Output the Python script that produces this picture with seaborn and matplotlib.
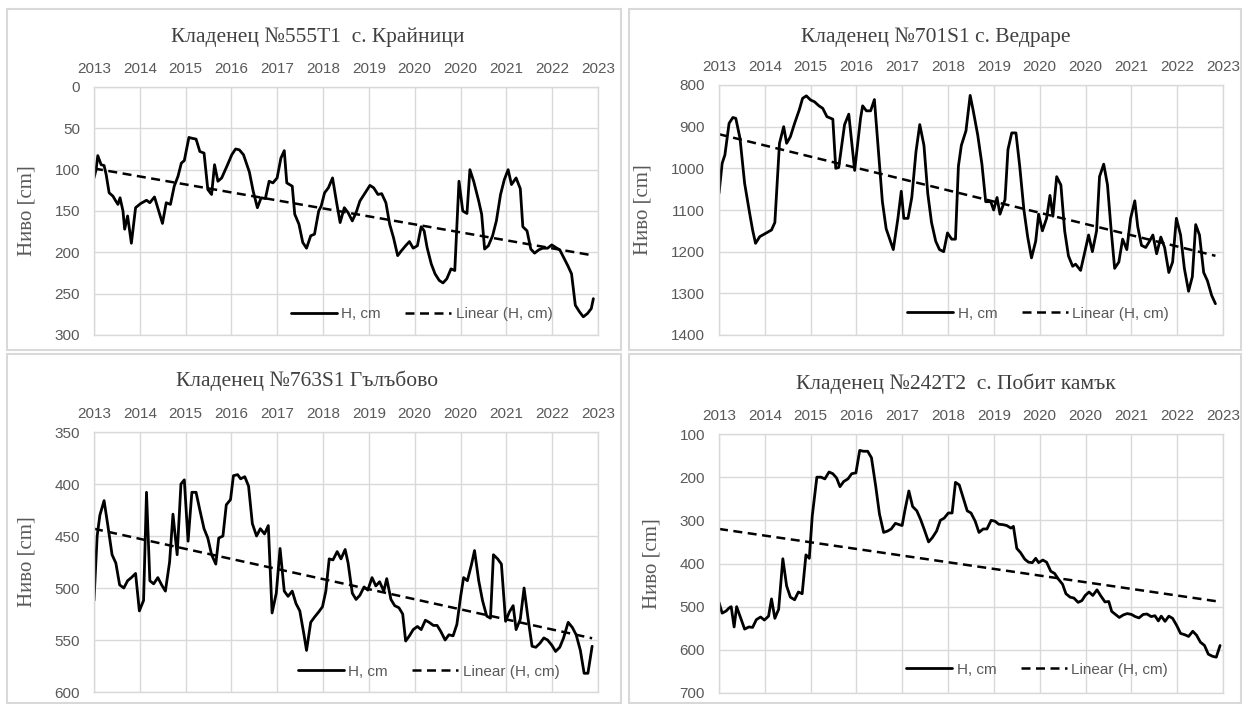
import numpy as np
import pandas as pd
import matplotlib
matplotlib.use("Agg")
import matplotlib.pyplot as plt
from matplotlib.patches import Rectangle
import seaborn as sns

# ---------------- data ----------------
tick_labels = ['2013', '2014', '2015', '2016', '2017', '2018', '2019',
               '2020', '2020', '2021', '2022', '2023']

titles = ['Кладенец №555T1  с. Крайници', 'Кладенец №701S1 с. Ведраре',
          'Кладенец №763S1 Гълъбово', 'Кладенец №242T2  с. Побит камък']

# months since Jan 2013 and level H [cm]
months_1 = [0, 0.5, 0.9, 1.7, 2.4, 2.9, 3.6, 4.5, 5.2, 5.7,
            6.2, 6.9, 7.3, 8.0, 8.9, 9.9, 11.1, 12.5, 13.3, 14.4,
            16.3, 17.2, 18.2, 19.1, 20.0, 20.8, 21.5, 22.1, 22.6, 23.3,
            24.3, 25.2, 26.2, 27.1, 28.0, 28.7, 29.5, 30.4, 31.8, 32.8,
            33.7, 34.6, 35.6, 37.0, 37.9, 38.9, 39.8, 40.8, 41.7, 42.6,
            43.6, 44.5, 45.3, 45.9, 47.2, 47.8, 48.8, 49.7, 50.6, 51.6,
            52.5, 53.5, 54.1, 54.9, 55.8, 56.8, 57.7, 58.6, 59.6, 60.5,
            61.5, 62.4, 63.3, 64.3, 65.7, 66.6, 67.6, 68.5, 69.5, 70.4,
            71.3, 72.3, 73.2, 74.2, 75.1, 76.0, 77.0, 77.9, 78.6, 79.3,
            80.3, 81.2, 82.2, 83.1, 84.0, 85.0, 85.9, 86.9, 87.8, 88.8,
            89.5, 90.4, 91.6, 92.3, 93.0, 93.9, 94.9, 95.8, 96.8, 97.7,
            98.6, 99.4, 100.5, 101.5, 102.1, 103.1, 104.0, 104.9, 105.9, 106.8,
            108.0, 109.0, 109.9, 110.9, 111.8, 112.8, 113.7, 114.6, 115.6, 116.5,
            117.5, 118.4, 118.9]
level_1 = [110, 100, 83, 94, 95, 106, 128, 132, 138, 142,
           134, 150, 172, 156, 189, 146, 141, 137, 140, 133,
           165, 140, 142, 120, 108, 92, 89, 74, 61, 62,
           63, 78, 80, 124, 130, 94, 114, 110, 94, 82,
           75, 76, 82, 103, 126, 146, 134, 135, 114, 116,
           110, 86, 77, 116, 120, 154, 166, 188, 195, 180,
           178, 150, 144, 128, 122, 110, 138, 164, 146, 152,
           162, 152, 138, 130, 119, 122, 130, 129, 140, 166,
           182, 204, 198, 192, 187, 195, 192, 169, 174, 194,
           214, 226, 234, 237, 232, 220, 222, 114, 150, 153,
           100, 114, 138, 154, 196, 192, 180, 162, 130, 112,
           100, 118, 110, 123, 169, 174, 196, 201, 197, 195,
           195, 191, 194, 197, 206, 216, 226, 264, 272, 278,
           274, 268, 256]

months_2 = [0, 0.75, 1.4, 2.4, 3.3, 4.0, 5.0, 6.1, 7.3, 8.0,
            8.7, 9.7, 11.1, 12.5, 13.3, 14.4, 15.4, 16.1, 17.0, 18.0,
            19.1, 19.9, 20.8, 21.8, 22.7, 23.8, 24.7, 25.7, 27.1, 27.8,
            28.5, 29.9, 30.9, 32.3, 33.7, 34.2, 35.1, 36.1, 37.0, 38.9,
            39.8, 41.5, 42.6, 43.4, 44.0, 45.0, 45.9, 46.9, 47.8, 48.8,
            49.7, 50.6, 51.6, 52.5, 53.5, 54.4, 55.4, 56.3, 57.0, 57.7,
            58.8, 59.8, 60.5, 61.6, 62.6, 63.5, 64.7, 65.4, 66.2, 66.9,
            68.1, 68.8, 69.7, 70.7, 71.6, 72.6, 73.5, 74.4, 75.4, 76.1,
            77.0, 78.0, 78.8, 79.5, 80.4, 81.4, 82.3, 83.2, 84.2, 84.9,
            86.1, 87.0, 88.0, 88.9, 89.9, 90.6, 91.6, 92.5, 93.3, 94.2,
            95.2, 96.1, 97.1, 98.0, 99.0, 99.7, 100.6, 101.6, 102.5, 103.3,
            104.2, 105.2, 106.1, 107.1, 108.0, 108.9, 109.9, 110.8, 111.8, 112.7,
            113.5, 114.4, 115.4, 116.3, 117.3, 118.2]
level_2 = [1060, 988, 968, 892, 878, 880, 928, 1036, 1108, 1148,
           1180, 1164, 1156, 1148, 1130, 940, 900, 940, 924, 892,
           860, 832, 826, 836, 840, 850, 856, 876, 882, 1000,
           998, 895, 870, 1005, 880, 850, 862, 862, 835, 1080,
           1145, 1195, 1120, 1055, 1120, 1120, 1070, 960, 895, 945,
           1060, 1130, 1175, 1195, 1200, 1155, 1170, 1170, 995, 945,
           910, 825, 860, 920, 990, 1080, 1080, 1100, 1070, 1110,
           1075, 955, 915, 915, 995, 1100, 1165, 1215, 1175, 1110,
           1150, 1120, 1065, 1115, 1020, 1040, 1150, 1210, 1235, 1230,
           1245, 1205, 1160, 1200, 1150, 1020, 990, 1040, 1140, 1240,
           1225, 1170, 1195, 1120, 1078, 1140, 1185, 1190, 1175, 1160,
           1205, 1165, 1190, 1250, 1225, 1120, 1160, 1240, 1295, 1260,
           1135, 1160, 1250, 1270, 1305, 1325]

months_3 = [0, 0.75, 1.4, 2.4, 3.3, 4.3, 5.2, 6.1, 7.1, 8.0,
            8.9, 9.9, 10.8, 11.8, 12.5, 13.3, 14.2, 15.2, 16.1, 17.0,
            18.0, 18.8, 19.8, 20.7, 21.5, 22.4, 23.3, 24.3, 25.2, 26.2,
            27.1, 28.0, 29.0, 29.7, 30.7, 31.5, 32.5, 33.2, 34.2, 34.9,
            35.9, 36.8, 37.7, 38.7, 39.6, 40.6, 41.5, 42.4, 43.4, 44.3,
            45.3, 46.2, 47.2, 48.1, 49.0, 50.0, 50.6, 51.6, 52.5, 53.5,
            54.4, 55.2, 56.0, 56.9, 57.9, 58.8, 59.8, 60.5, 61.5, 62.4,
            63.3, 64.3, 65.2, 66.2, 67.1, 68.0, 69.0, 69.7, 70.7, 71.6,
            72.6, 73.5, 74.2, 75.1, 76.0, 77.0, 77.9, 78.9, 79.8, 80.8,
            81.7, 82.6, 83.6, 84.5, 85.5, 86.4, 87.3, 88.0, 88.9, 89.9,
            90.6, 91.6, 92.5, 93.5, 94.4, 95.1, 96.1, 97.0, 98.0, 98.9,
            99.8, 100.5, 101.5, 102.4, 103.3, 104.3, 105.2, 106.2, 107.1, 108.0,
            109.0, 109.9, 110.9, 111.8, 112.9, 113.9, 114.8, 115.8, 116.7, 117.6,
            118.6]
level_3 = [512, 450, 430, 416, 440, 468, 476, 497, 500, 493,
           490, 486, 522, 512, 408, 493, 496, 490, 497, 503,
           475, 429, 468, 400, 396, 455, 408, 408, 425, 443,
           452, 468, 477, 452, 450, 420, 415, 392, 391, 395,
           393, 402, 438, 450, 443, 448, 440, 524, 505, 462,
           503, 508, 503, 515, 522, 545, 560, 533, 528, 523,
           518, 503, 472, 473, 465, 472, 463, 476, 505, 511,
           507, 499, 502, 490, 498, 494, 503, 491, 511, 517,
           519, 525, 551, 546, 540, 537, 540, 531, 533, 536,
           536, 542, 550, 545, 546, 535, 508, 490, 493, 477,
           464, 493, 512, 527, 529, 468, 472, 477, 532, 523,
           517, 540, 530, 500, 528, 556, 557, 553, 548, 550,
           555, 561, 557, 548, 533, 538, 545, 560, 582, 582,
           556]

months_4 = [0, 0.75, 1.7, 2.4, 2.9, 3.6, 4.2, 5.2, 6.1, 7.1,
            8.0, 8.9, 9.9, 10.8, 11.8, 12.5, 13.3, 14.2, 15.2, 16.1,
            17.0, 18.0, 18.9, 19.8, 20.7, 21.5, 22.2, 23.3, 24.3, 25.2,
            26.2, 27.1, 28.0, 28.8, 29.7, 30.7, 31.6, 32.6, 33.5, 34.4,
            35.4, 36.3, 37.3, 38.2, 39.2, 40.1, 41.0, 42.0, 42.9, 43.6,
            44.3, 45.2, 46.1, 47.1, 48.0, 48.9, 49.9, 50.8, 51.8, 52.7,
            53.6, 54.6, 55.5, 56.3, 57.2, 58.2, 59.1, 60.0, 61.0, 61.9,
            62.9, 63.8, 64.8, 65.7, 66.6, 67.6, 68.5, 69.5, 70.1, 70.9,
            71.8, 72.8, 73.7, 74.6, 75.4, 76.1, 77.1, 78.0, 79.0, 79.9,
            80.8, 81.8, 82.6, 83.6, 84.5, 85.5, 86.4, 87.2, 88.1, 89.0,
            90.0, 90.9, 91.9, 92.8, 93.5, 94.4, 95.3, 96.3, 97.2, 98.2,
            99.1, 100.0, 101.0, 101.9, 102.9, 103.8, 104.6, 105.3, 106.2, 107.1,
            108.0, 109.0, 109.9, 110.9, 111.8, 112.8, 113.7, 114.6, 115.6, 116.5,
            117.5, 118.4, 119.3]
level_4 = [490, 515, 510, 503, 500, 547, 500, 527, 552, 547,
           548, 530, 524, 531, 522, 482, 527, 506, 389, 452,
           478, 484, 466, 470, 380, 388, 290, 200, 200, 204,
           188, 192, 202, 222, 210, 204, 192, 190, 138, 140,
           140, 155, 220, 285, 328, 325, 320, 307, 310, 312,
           275, 232, 268, 278, 298, 322, 350, 340, 325, 300,
           295, 283, 283, 212, 218, 250, 278, 283, 302, 328,
           320, 320, 300, 302, 309, 310, 312, 318, 314, 365,
           375, 390, 397, 398, 388, 398, 392, 397, 418, 423,
           436, 448, 470, 478, 480, 490, 486, 474, 466, 474,
           461, 475, 489, 488, 511, 518, 525, 519, 516, 518,
           523, 526, 518, 517, 523, 521, 533, 522, 534, 522,
           527, 544, 562, 565, 569, 557, 566, 582, 590, 610,
           615, 617, 590]

y_ranges = [(0, 300, 50), (800, 1400, 100), (350, 600, 50), (100, 700, 100)]
series = [(months_1, level_1), (months_2, level_2), (months_3, level_3), (months_4, level_4)]

# ---------------- style ----------------
sns.set_theme(style='white')
plt.rcParams['font.family'] = ['Liberation Sans', 'DejaVu Sans']

W, H = 1245, 704
fig = plt.figure(figsize=(W / 100, H / 100), dpi=100)
fig.patch.set_facecolor('white')

border = '#d9d9d9'
grid_c = '#d9d9d9'
txt_c = '#595959'

# panel frames (pixel boxes -> figure fractions)
frames = [(7, 9, 621, 350), (629, 9, 1241, 350), (7, 354, 621, 703), (629, 354, 1241, 703)]
for (x0, y0, x1, y1) in frames:
    fig.patches.append(Rectangle((x0 / W, 1 - y1 / H), (x1 - x0) / W, (y1 - y0) / H,
                                 transform=fig.transFigure, fill=False,
                                 edgecolor=border, linewidth=1.5))

axes_px = [(94, 87, 598, 335), (719, 85, 1223, 335), (94, 432, 598, 692), (719, 434, 1223, 693)]
title_pos = [(318, 37), (936, 37), (307, 381), (956, 384)]
legend_anchor = [(0.65, 0.085), (0.633, 0.085), (0.664, 0.078), (0.631, 0.09)]
ylabel_x = [-0.115, -0.131, -0.115, -0.115]

for i, ((mx, lv), (ymin, ymax, ystep)) in enumerate(zip(series, y_ranges)):
    x0, y0, x1, y1 = axes_px[i]
    ax = fig.add_axes([x0 / W, 1 - y1 / H, (x1 - x0) / W, (y1 - y0) / H])
    df = pd.DataFrame({'month': mx, 'H': lv})
    sns.lineplot(data=df, x='month', y='H', ax=ax, color='black', linewidth=2.0,
                 label='H, cm', legend=False)
    coef = np.polyfit(df['month'], df['H'], 1)
    xt = np.array([df['month'].min(), df['month'].max()])
    ax.plot(xt, np.polyval(coef, xt), color='black', linewidth=1.8,
            linestyle=(0, (3.6, 2.2)), label='Linear (H, cm)')

    ax.set_xlim(0, 120)
    ax.set_ylim(ymax, ymin)
    ax.set_yticks(np.arange(ymin, ymax + ystep / 2, ystep))
    ax.set_xticks(np.linspace(0, 120, 12))
    ax.set_xticklabels(tick_labels)
    ax.xaxis.tick_top()
    ax.tick_params(axis='x', which='both', length=0, pad=8, labelsize=11, labelcolor=txt_c)
    ax.tick_params(axis='y', which='both', length=0, pad=10, labelsize=11, labelcolor=txt_c)
    ax.grid(True, color=grid_c, linewidth=1.0)
    ax.set_axisbelow(True)
    for s in ax.spines.values():
        s.set_color(grid_c)
        s.set_linewidth(1.0)
    ax.set_xlabel('')
    ax.set_ylabel('Ниво [cm]', fontsize=15, color=txt_c,
                  family=['Liberation Serif', 'DejaVu Serif'])
    ax.yaxis.set_label_coords(ylabel_x[i], 0.5)

    leg = ax.legend(loc='center', bbox_to_anchor=legend_anchor[i], ncol=2, frameon=False,
                    fontsize=11, handlelength=3.0, columnspacing=1.6, handletextpad=0.3,
                    labelcolor=txt_c)

    tx, ty = title_pos[i]
    fig.text(tx / W, 1 - ty / H, titles[i], ha='center', va='center', fontsize=15.5,
             color='#404040', family=['Liberation Serif', 'DejaVu Serif'])

fig.savefig('out.png', dpi=100, facecolor='white')
